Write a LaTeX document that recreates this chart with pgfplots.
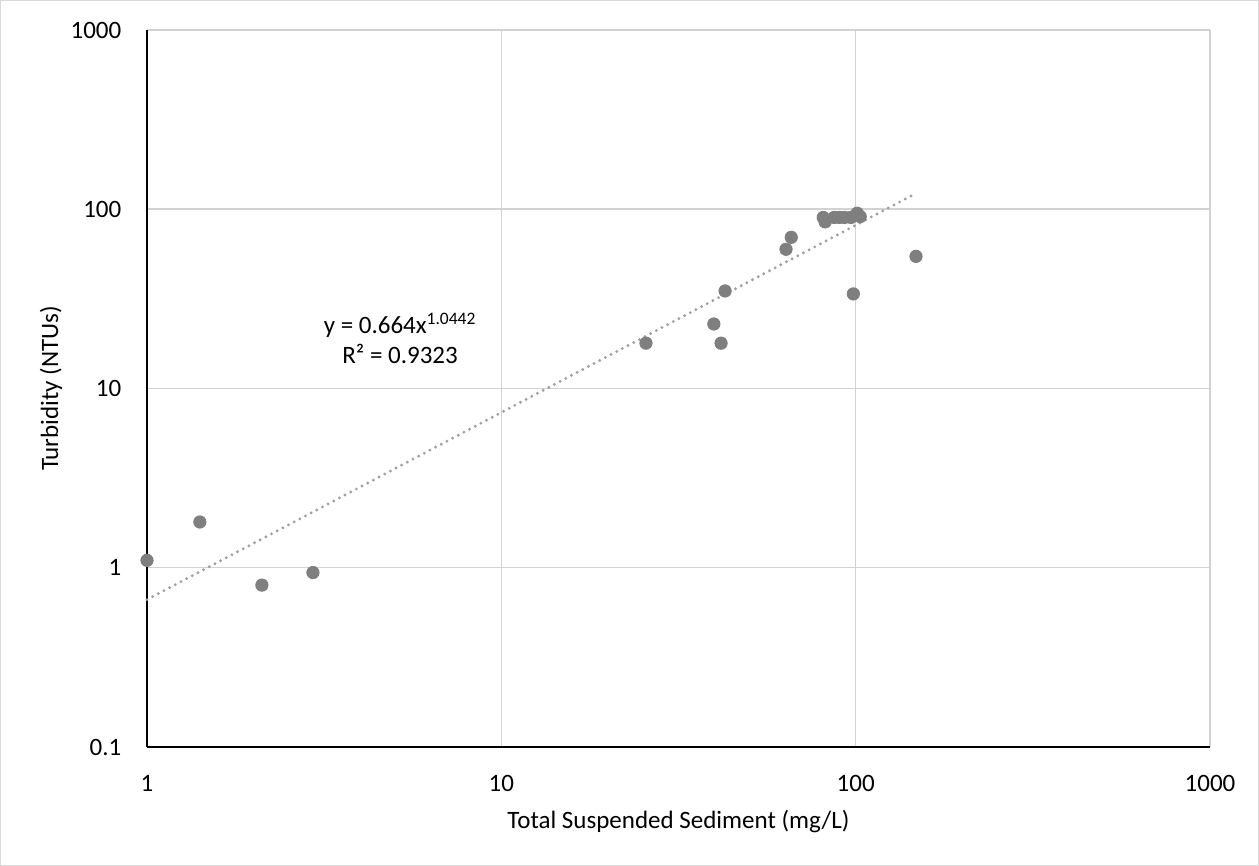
\documentclass[border=0pt]{standalone}
\usepackage{fontspec}
\setmainfont{Carlito}
\usepackage{pgfplots}
\pgfplotsset{compat=1.18}
\definecolor{gridc}{RGB}{210,210,210}
\definecolor{markc}{RGB}{127,127,127}
\definecolor{trendc}{RGB}{160,160,160}
\definecolor{framec}{RGB}{217,217,217}
\newcommand{\cf}{\fontsize{12.5}{15}\selectfont}
\begin{document}
\cf
\begin{tikzpicture}
\draw[framec, line width=0.6pt] (0.3pt,0.3pt) rectangle (629.2pt,432.7pt);
\begin{axis}[
  at={(73.5pt,59.5pt)}, anchor=south west,
  scale only axis, width=531.5pt, height=358.5pt,
  xmode=log, ymode=log,
  xmin=1, xmax=1000, ymin=0.1, ymax=1000,
  xtick={1,10,100,1000}, xticklabels={1,10,100,1000},
  ytick={0.1,1,10,100,1000}, yticklabels={0.1,1,10,100,1000},
  minor xtick={}, minor ytick={},
  major tick length=0pt, minor tick length=0pt,
  axis lines=left,
  axis line style={-, black, line width=0.75pt},
  grid=major,
  major grid style={gridc, line width=0.75pt},
  tick label style={font=\cf},
  xticklabel style={yshift=-10pt},
  yticklabel style={xshift=-8.5pt},
  label style={font=\cf},
  xlabel={Total Suspended Sediment (mg/L)},
  ylabel={Turbidity (NTUs)},
  xlabel style={at={(axis description cs:0.5,-0.1046)}, anchor=center},
  ylabel style={at={(axis description cs:-0.0903,0.5)}, anchor=center},
  clip=false,
]
\addplot[only marks, mark=*, mark size=3.1pt, mark options={fill=markc, draw=markc}] coordinates {
(1.0,1.1) (1.41,1.8) (2.11,0.8) (2.94,0.94) (25.6,17.9) (39.8,22.9) (41.7,17.9) (42.8,35)
(63.6,59.8) (65.8,69.7) (81,90) (82,85) (87,90) (90,90) (93,90) (97,90) (101,95) (103,91)
(98.5,33.7) (148,54.6)
};
\addplot[trendc, line width=1.6pt, line cap=round, dash pattern=on 0pt off 3.2pt] coordinates {
(1,0.664) (148,122.6)
};
\node[align=center, font=\cf, inner sep=0pt] at (axis cs:5.18,19.1) {y = 0.664x\textsuperscript{1.0442}\\R² = 0.9323};
\end{axis}
\end{tikzpicture}
\end{document}
